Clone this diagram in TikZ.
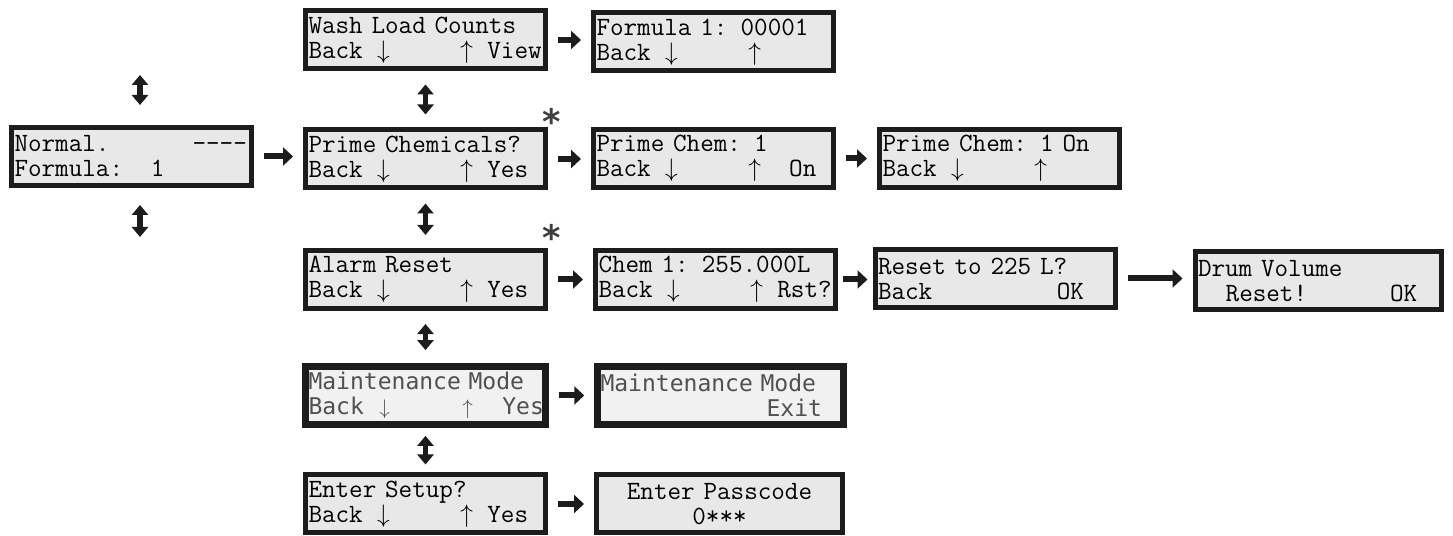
\documentclass[tikz,border=0pt]{standalone}
\usepackage{fontspec}
\usepackage{xcolor}
\usepackage{tikz}
\usetikzlibrary{arrows.meta}
\newfontfamily\dotfont{DejaVu Sans Mono}
\newfontfamily\starfont{DejaVu Sans}
\definecolor{LCDFill}{HTML}{E8E8E8}
\definecolor{LCDLine}{HTML}{1C1C1C}
\definecolor{DotFill}{HTML}{F1F1F1}
\definecolor{DotText}{HTML}{505050}
% one LCD cell
\newlength\lcdch
\setlength\lcdch{7.875pt}
\newcommand\gap[1]{\hspace*{#1\lcdch}}
\newcommand\keydn{\makebox[\lcdch]{$\downarrow$}}
\newcommand\keyup{\makebox[\lcdch]{$\uparrow$}}
\tikzset{
  lcd/.style={draw=LCDLine,line width=0.1cm,fill=LCDFill,text width=4.68cm,align=left,
    inner xsep=0.06cm,minimum height=1.16cm,font=\ttfamily\fontsize{15}{14.2}\selectfont},
  dotlcd/.style={lcd,line width=0.13cm,fill=DotFill,text=DotText,
    font=\dotfont\fontsize{13.1}{14.2}\selectfont},
  go/.style={LCDLine,line width=0.12cm,-{Triangle[length=0.2cm,width=0.36cm]},
    shorten <=0.2cm,shorten >=0.2cm},
  updown/.style={LCDLine,line width=0.11cm,{Triangle[length=0.2cm,width=0.32cm]}-{Triangle[length=0.2cm,width=0.32cm]}},
  mark star/.style={font=\starfont\bfseries\fontsize{20}{20}\selectfont,text=LCDLine!85,inner sep=0pt}
}

\begin{document}
\begin{tikzpicture}[x=1cm,y=1cm]
\path[use as bounding box] (0,0) rectangle (29.06,10.72);
% screens
\node[lcd] (normal) at (2.63,7.59) {Normal.\gap{6}----\\Formula:\gap{2}1};
\node[lcd] (wash) at (8.51,9.92) {Wash Load Counts\\Back\gap{1}\keydn\gap{5}\keyup\gap{1}View};
\node[lcd] (prime) at (8.51,7.54) {Prime Chemicals?\\Back\gap{1}\keydn\gap{5}\keyup\gap{1}Yes};
\node[lcd] (alarm) at (8.51,5.13) {Alarm Reset\\Back\gap{1}\keydn\gap{5}\keyup\gap{1}Yes};
\node[dotlcd] (maint) at (8.51,2.81) {Maintenance Mode\\Back\gap{1}\keydn\gap{5}\keyup\gap{2}Yes};
\node[lcd] (setup) at (8.51,0.64) {Enter Setup?\\Back\gap{1}\keydn\gap{5}\keyup\gap{1}Yes};
\node[lcd] (formula) at (14.27,9.88) {Formula 1: 00001\\Back\gap{1}\keydn\gap{5}\keyup};
\node[lcd] (primechem) at (14.27,7.55) {Prime Chem: 1\\Back\gap{1}\keydn\gap{5}\keyup\gap{2}On};
\node[lcd] (primeon) at (19.99,7.55) {Prime Chem: 1 On\\Back\gap{1}\keydn\gap{5}\keyup};
\node[lcd] (chem) at (14.31,5.13) {Chem 1: 255.000L\\Back\gap{1}\keydn\gap{5}\keyup\gap{1}Rst?};
\node[lcd] (reset) at (19.90,5.15) {Reset to 225 L?\\Back\gap{9}OK};
\node[lcd,text width=4.8cm] (drum) at (26.36,5.10) {Drum Volume\\\gap{2}Reset!\gap{6}OK};
\node[dotlcd,text width=4.8cm] (maintexit) at (14.41,2.81) {Maintenance Mode\\\gap{12}Exit};
\node[lcd,text width=4.8cm,align=center] (passcode) at (14.39,0.64) {Enter Passcode\\0***};
% marks
\node[mark star] (starA) at (11.04,8.30) {*};
\node[mark star] (starB) at (11.04,5.98) {*};
% free ends beside the normal screen
\coordinate (upTop) at (2.80,9.22);
\coordinate (upBot) at (2.80,8.62);
\coordinate (dnTop) at (2.80,6.62);
\coordinate (dnBot) at (2.80,5.98);
% menu moves
\draw[updown] (upTop) -- (upBot);
\draw[updown] (dnTop) -- (dnBot);
\draw[updown,shorten <=0.26cm,shorten >=0.26cm] (wash.south) -- (prime.north);
\draw[updown,shorten <=0.26cm,shorten >=0.26cm] (prime.south) -- (alarm.north);
\draw[updown,shorten <=0.26cm,shorten >=0.26cm] (alarm.south) -- (maint.north);
\draw[updown,shorten <=0.16cm,shorten >=0.16cm] (maint.south) -- (setup.north);
% selections
\draw[go] (normal.east) -- (normal.east -| prime.west);
\draw[go] (wash.east) -- (wash.east -| formula.west);
\draw[go] (prime.east) -- (prime.east -| primechem.west);
\draw[go] (primechem.east) -- (primechem.east -| primeon.west);
\draw[go] (alarm.east) -- (alarm.east -| chem.west);
\draw[go,shorten <=0.1cm,shorten >=0.1cm] (chem.east) -- (chem.east -| reset.west);
\draw[go] (reset.east) -- (reset.east -| drum.west);
\draw[go] (maint.east) -- (maint.east -| maintexit.west);
\draw[go] (setup.east) -- (setup.east -| passcode.west);
\end{tikzpicture}
\end{document}
